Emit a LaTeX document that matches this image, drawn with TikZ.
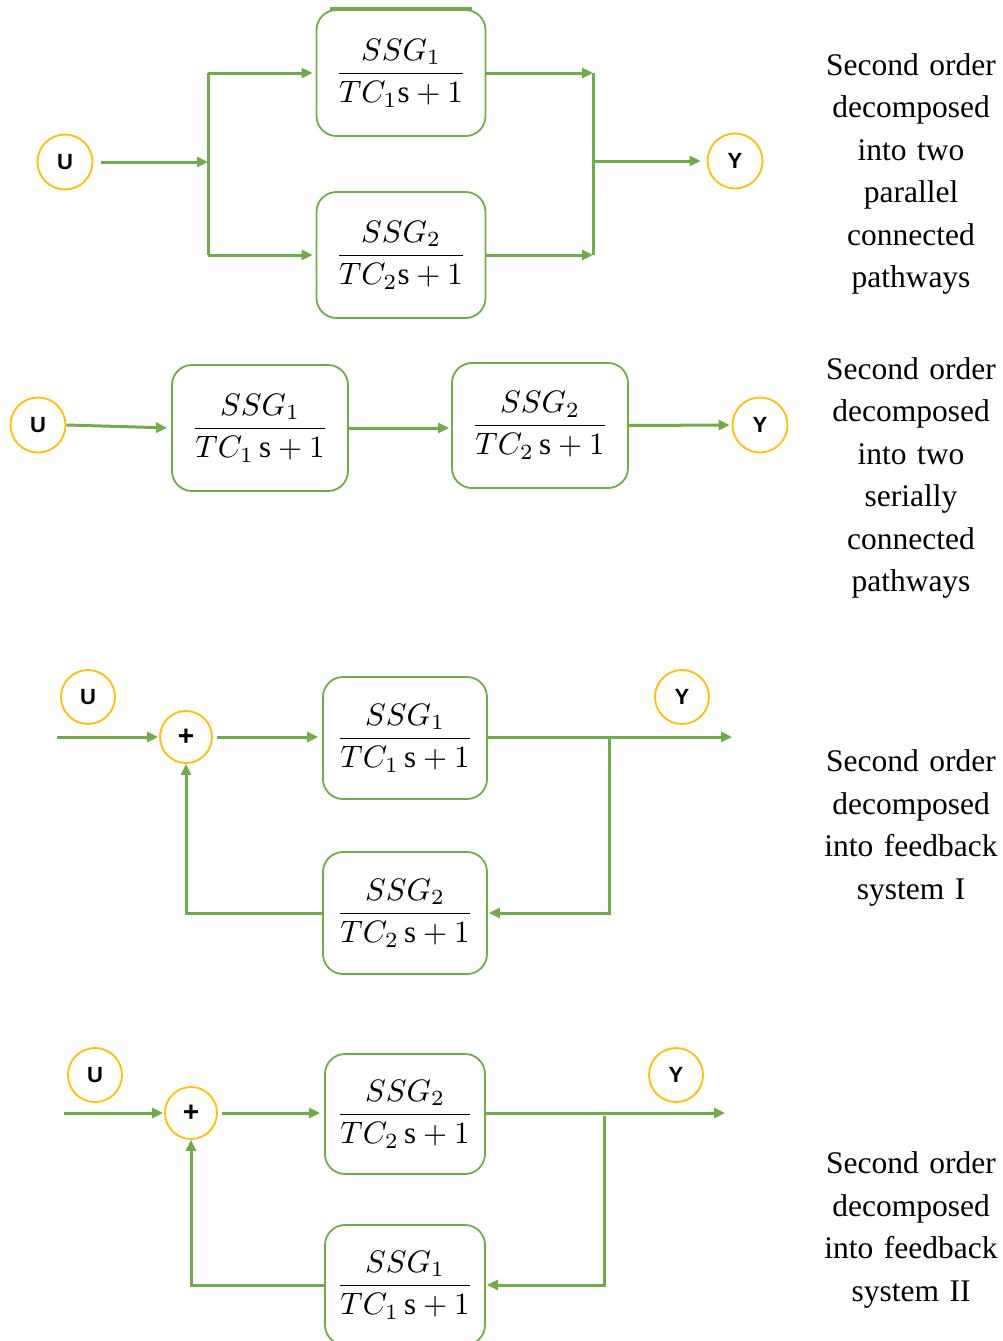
\documentclass[tikz,border=0pt]{standalone}
\usepackage{graphicx}
\usepackage{fontspec}
\setmainfont{Liberation Serif}
\newfontfamily\arialfam{Liberation Sans}
\usetikzlibrary{arrows.meta}
\definecolor{lgreen}{HTML}{70AD47}
\definecolor{gold}{HTML}{FFC000}
\newcommand{\tfrac}[2]{\scalebox{3.1}{$\displaystyle\frac{#1}{#2}$}}
\begin{document}
\begin{tikzpicture}[x=1pt,y=-1pt,
 tf/.style={draw=lgreen,line width=1.8pt,rounded corners=20pt,fill=white,inner sep=0pt},
 sig/.style={circle,draw=gold,line width=1.8pt,minimum size=55pt,inner sep=0pt,font=\arialfam\bfseries\fontsize{22}{26}\selectfont},
 wire/.style={draw=lgreen,line width=3pt},
 arr/.style={wire,-{Triangle[length=11pt,width=10pt]}},
 desc/.style={align=center,font=\fontsize{31.5}{42.5}\selectfont,text width=210pt,inner sep=0pt}
]
\clip (0,0) rectangle (1003,1341);
\fill[white] (0,0) rectangle (1003,1341);

% ---------- Section 1: parallel ----------
\draw[wire] (330,8) -- (472,8);
\node[tf,minimum width=169pt,minimum height=126pt] (b1) at (401,73) {\tfrac{SSG_1}{TC_1\mathrm{s}+1}};
\node[tf,minimum width=169pt,minimum height=126pt] (b2) at (401,255) {\tfrac{SSG_2}{TC_2\mathrm{s}+1}};
\node[sig] (u1) at (65,162) {U};
\node[sig] (y1) at (735,161) {Y};
\coordinate (j1) at (208,162);
\coordinate (j1t) at (208,73);
\coordinate (j1b) at (208,255);
\coordinate (j2t) at (593,73);
\coordinate (j2b) at (593,255);
\coordinate (j2m) at (593,161);
\draw[arr,shorten <=8pt] (u1.east) -- (j1);
\draw[wire] (j1t) -- (j1b);
\draw[arr,shorten >=3pt] (j1t) -- (b1.west);
\draw[arr,shorten >=3pt] (j1b) -- (b2.west);
\draw[arr] (b1.east) -- (j2t);
\draw[arr] (b2.east) -- (j2b);
\draw[wire] (j2t) -- (j2b);
\draw[arr,shorten >=6pt] (j2m) -- (y1.west);
\node[desc] (d1) at (911,174) {Second order\\decomposed\\into two\\parallel\\connected\\pathways};

% ---------- Section 2: serial ----------
\node[sig] (u2) at (38,425) {U};
\node[tf,minimum width=176pt,minimum height=126pt] (b3) at (260,428) {\tfrac{SSG_1}{TC_1\,\mathrm{s}+1}};
\node[tf,minimum width=176pt,minimum height=125pt] (b4) at (540,425.5) {\tfrac{SSG_2}{TC_2\,\mathrm{s}+1}};
\node[sig] (y2) at (760,425) {Y};
\draw[arr,shorten >=4pt] (u2.east) -- (b3.west);
\draw[arr,shorten >=2pt] (b3.east) -- (b4.west |- b3.east);
\draw[arr,shorten >=2pt] (b4.east) -- (y2.west);
\node[desc] (d2) at (911,478) {Second order\\decomposed\\into two\\serially\\connected\\pathways};

% ---------- Section 3: feedback I ----------
\node[sig,minimum size=54pt] (u3) at (88,697) {U};
\node[sig,minimum size=54pt] (y3) at (682,697) {Y};
\node[sig,minimum size=52pt,font=\arialfam\bfseries\fontsize{28}{30}\selectfont] (p3) at (186,737) {+};
\node[tf,minimum width=164pt,minimum height=122pt] (b5) at (405,738) {\tfrac{SSG_1}{TC_1\,\mathrm{s}+1}};
\node[tf,minimum width=164pt,minimum height=122pt] (b6) at (405,913) {\tfrac{SSG_2}{TC_2\,\mathrm{s}+1}};
\coordinate (in3) at (57,737);
\coordinate (out3) at (732,737);
\coordinate (tap3) at (609,739);
\draw[arr,shorten >=1pt] (in3) -- (p3.west);
\draw[arr,shorten <=4pt,shorten >=4pt] (p3.east) -- (b5.west |- p3.east);
\draw[arr] (b5.east |- p3.east) -- (out3);
\draw[arr,shorten >=1pt] (tap3) |- (b6.east);
\draw[arr] (b6.west) -| (p3.south);
\node[desc] (d3) at (911,828) {Second order\\decomposed\\into feedback\\system I};

% ---------- Section 4: feedback II ----------
\node[sig,minimum size=54pt] (u4) at (95,1075) {U};
\node[sig,minimum size=54pt] (y4) at (676,1075) {Y};
\node[sig,minimum size=52pt,font=\arialfam\bfseries\fontsize{28}{30}\selectfont] (p4) at (191,1113) {+};
\node[tf,minimum width=160pt,minimum height=120pt] (b7) at (405,1114) {\tfrac{SSG_2}{TC_2\,\mathrm{s}+1}};
\node[tf,minimum width=160pt,minimum height=120pt] (b8) at (405,1285) {\tfrac{SSG_1}{TC_1\,\mathrm{s}+1}};
\coordinate (in4) at (64,1113);
\coordinate (out4) at (725,1113);
\coordinate (tap4) at (604,1116);
\draw[arr,shorten >=1pt] (in4) -- (p4.west);
\draw[arr,shorten <=4pt,shorten >=4pt] (p4.east) -- (b7.west |- p4.east);
\draw[arr] (b7.east |- p4.east) -- (out4);
\draw[arr,shorten >=1pt] (tap4) |- (b8.east);
\draw[arr] (b8.west) -| (p4.south);
\node[desc] (d4) at (911,1230) {Second order\\decomposed\\into feedback\\system II};
\end{tikzpicture}
\end{document}
